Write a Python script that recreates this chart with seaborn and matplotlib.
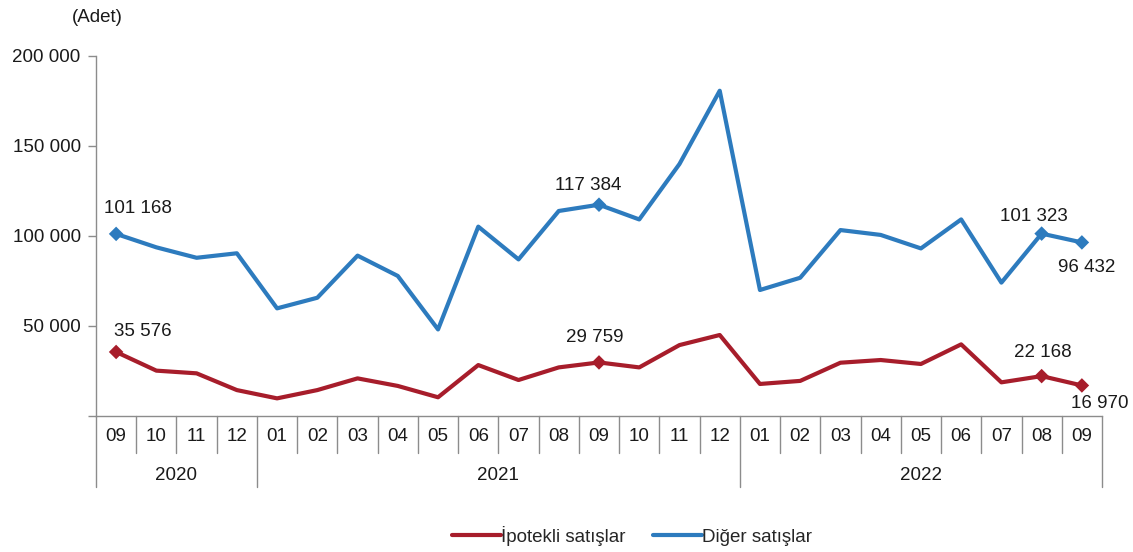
import numpy as np
import pandas as pd
import matplotlib
matplotlib.use('Agg')
import matplotlib.pyplot as plt
import matplotlib.transforms as mtransforms
from matplotlib.lines import Line2D
import seaborn as sns

# Aylar ve yıllar
months = ['09', '10', '11', '12',
          '01', '02', '03', '04', '05', '06', '07', '08', '09', '10', '11', '12',
          '01', '02', '03', '04', '05', '06', '07', '08', '09']
years = ['2020'] * 4 + ['2021'] * 12 + ['2022'] * 9

ipotekli = [35576, 25200, 23700, 14400, 9800, 14400, 20900, 16700, 10400, 28300,
            20000, 27000, 29759, 27000, 39400, 45000, 17800, 19500, 29600, 31100,
            28900, 39800, 18700, 22168, 16970]
diger = [101168, 93700, 87900, 90400, 59800, 65700, 89100, 77800, 48100, 105200,
         87000, 113900, 117384, 109200, 140000, 180700, 70000, 76800, 103300, 100600,
         93100, 109200, 74100, 101323, 96432]

series_names = ['İpotekli satışlar', 'Diğer satışlar']
labelled = [0, 12, 23, 24]

colors = {'İpotekli satışlar': '#A71D2B', 'Diğer satışlar': '#2D7BBE'}
# etiket kaydırmaları (piksel)
offsets = {
    'Diğer satışlar': [(22, 25), (-11, 19), (-8, 17), (5, -25)],
    'İpotekli satışlar': [(27, 20), (-4, 25), (1, 24), (18, -18)],
}

sns.set_theme(style='white')
plt.rcParams['font.family'] = ['Liberation Sans', 'DejaVu Sans']
FS = 13.5
GREY = '#8c8c8c'

pos = np.arange(len(months))
df = pd.DataFrame({
    'pos': np.concatenate([pos, pos]),
    'value': ipotekli + diger,
    'series': [series_names[0]] * len(pos) + [series_names[1]] * len(pos),
})

fig = plt.figure(figsize=(11.33, 5.52), dpi=100)
ax = fig.add_axes([96 / 1133, 1 - 416 / 552, (1102 - 96) / 1133, 360 / 552])

sns.lineplot(data=df, x='pos', y='value', hue='series', palette=colors,
             linewidth=3, legend=False, ax=ax)
pts = df[df['pos'].isin(labelled)]
sns.scatterplot(data=pts, x='pos', y='value', hue='series', palette=colors,
                marker='D', s=55, edgecolor='none', legend=False, ax=ax, zorder=5)

for name in series_names:
    vals = ipotekli if name == series_names[0] else diger
    for i, (dx, dy) in zip(labelled, offsets[name]):
        ax.annotate(f'{vals[i]:,}'.replace(',', ' '), (i, vals[i]),
                    xytext=(dx, dy), textcoords='offset pixels',
                    ha='center', va='center', fontsize=FS, color='#1a1a1a')

ax.set_xlim(-0.5, len(months) - 0.5)
ax.set_ylim(0, 200000)
ax.set_yticks([0, 50000, 100000, 150000, 200000])
ax.set_yticklabels(['', '50 000', '100 000', '150 000', '200 000'], fontsize=FS, color='#1a1a1a')
ax.tick_params(axis='y', left=True, length=6, width=1, color=GREY, pad=5)
ax.set_xticks([])
ax.set_xlabel('')
ax.set_ylabel('')
for s in ['top', 'right']:
    ax.spines[s].set_visible(False)
for s in ['left', 'bottom']:
    ax.spines[s].set_color(GREY)
    ax.spines[s].set_linewidth(1)

# kategori ekseni: ay ve yıl satırları
trans = mtransforms.blended_transform_factory(ax.transData, ax.transAxes)
for b in range(len(months) + 1):
    x = b - 0.5
    is_year = b == 0 or b == len(months) or years[b] != years[b - 1]
    ax.plot([x, x], [0, -0.197 if is_year else -0.103], transform=trans,
            color=GREY, lw=1, clip_on=False)
for i, m in enumerate(months):
    ax.text(i, -0.058, m, transform=trans, ha='center', va='center', fontsize=FS, color='#1a1a1a')
for y in dict.fromkeys(years):
    idx = [i for i, v in enumerate(years) if v == y]
    ax.text((idx[0] + idx[-1]) / 2, -0.164, y, transform=trans, ha='center', va='center',
            fontsize=FS, color='#1a1a1a')

fig.text(97 / 1133, 1 - 17 / 552, '(Adet)', ha='center', va='center', fontsize=FS, color='#1a1a1a')

handles = [Line2D([], [], color=colors[n], lw=3) for n in series_names]
fig.legend(handles, series_names, loc='center', bbox_to_anchor=(632 / 1133, 1 - 536 / 552),
           ncol=2, frameon=False, handlelength=2.6, handletextpad=0.0, columnspacing=1.5,
           fontsize=FS)

fig.savefig('out.png', dpi=100)
